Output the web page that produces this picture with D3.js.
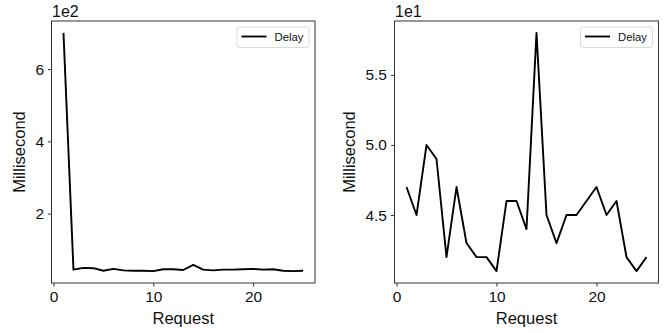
<!DOCTYPE html>
<html>
<head>
<meta charset="utf-8">
<script src="https://cdn.jsdelivr.net/npm/d3@7"></script>
<style>
  html, body { margin: 0; padding: 0; background: #fff; }
  svg { display: block; font-family: "Liberation Sans", Arial, Helvetica, sans-serif; }
</style>
</head>
<body>
<svg id="chart" width="671" height="333"></svg>
<script>
// Request number 1..25
const requests = d3.range(1, 26);

// Delay in milliseconds
const delayAll = [700, 45, 50, 49, 42, 47, 43, 42, 42, 41, 46, 46, 44, 58, 45, 43, 45, 45, 46, 47, 45, 46, 42, 41, 42];
const delayWarm = [47, 45, 50, 49, 42, 47, 43, 42, 42, 41, 46, 46, 44, 58, 45, 43, 45, 45, 46, 47, 45, 46, 42, 41, 42];

const xTicks = [0, 10, 20];
const leftTicks = [200, 400, 600];
const leftTickLabels = ['2', '4', '6'];
const rightTicks = [45, 50, 55];
const rightTickLabels = ['4.5', '5.0', '5.5'];

const svg = d3.select('#chart');

// Matplotlib-like 5% margins around the data range
function padded(ext) {
    const pad = (ext[1] - ext[0]) * 0.05;
    return [ext[0] - pad, ext[1] + pad];
}

function drawPanel(opts) {
    const { left, right, top, bottom, values, yTicks, yLabels, offsetText, labelX } = opts;
    const g = svg.append('g');

    const x = d3.scaleLinear().domain(padded(d3.extent(requests))).range([left, right]);
    const y = d3.scaleLinear().domain(padded(d3.extent(values))).range([bottom, top]);

    // Line
    const line = d3.line().x((d, i) => x(requests[i])).y(d => y(d));
    g.append('path')
        .datum(values)
        .attr('d', line)
        .attr('fill', 'none')
        .attr('stroke', '#000')
        .attr('stroke-width', 1.9)
        .attr('stroke-linejoin', 'round');

    // X axis
    const xAxis = g.append('g')
        .attr('transform', `translate(0,${bottom})`)
        .call(d3.axisBottom(x).tickValues(xTicks).tickSize(3.5).tickPadding(4).tickFormat(d3.format('d')));
    xAxis.selectAll('text').attr('fill', '#111').style('font-size', '15.5px');

    // Y axis
    const yAxis = g.append('g')
        .attr('transform', `translate(${left},0)`)
        .call(d3.axisLeft(y).tickValues(yTicks).tickSize(3.5).tickPadding(4).tickFormat((d, i) => yLabels[i]));
    yAxis.selectAll('text').attr('fill', '#111').style('font-size', '15.5px');

    g.selectAll('.domain').remove();
    g.selectAll('.tick line').attr('stroke', '#333').attr('stroke-width', 1);

    // Frame
    g.append('rect')
        .attr('x', left).attr('y', top)
        .attr('width', right - left).attr('height', bottom - top)
        .attr('fill', 'none').attr('stroke', '#333').attr('stroke-width', 1);

    // Offset text
    g.append('text')
        .attr('x', left + 0.5).attr('y', top - 4)
        .attr('fill', '#111')
        .style('font-size', '16px')
        .text(offsetText);

    // Axis labels
    g.append('text')
        .attr('x', (left + right) / 2).attr('y', bottom + 41)
        .attr('text-anchor', 'middle')
        .attr('fill', '#111')
        .style('font-size', '16.5px')
        .text('Request');

    g.append('text')
        .attr('transform', `translate(${labelX},${(top + bottom) / 2}) rotate(-90)`)
        .attr('text-anchor', 'middle')
        .attr('fill', '#111')
        .style('font-size', '16.5px')
        .text('Millisecond');

    // Legend
    const lg = g.append('g').attr('transform', `translate(${right - 78},${top + 6})`);
    lg.append('rect')
        .attr('width', 72).attr('height', 20.5).attr('rx', 2.5)
        .attr('fill', '#fff').attr('fill-opacity', 0.8)
        .attr('stroke', '#d0d0d0').attr('stroke-width', 0.8);
    lg.append('line')
        .attr('x1', 4.5).attr('x2', 29.5).attr('y1', 9.5).attr('y2', 9.5)
        .attr('stroke', '#000').attr('stroke-width', 1.9);
    lg.append('text')
        .attr('x', 37.5).attr('y', 13.8)
        .attr('fill', '#111')
        .style('font-size', '11.3px')
        .text('Delay');
}

drawPanel({
    left: 51.5, right: 315, top: 21, bottom: 283,
    values: delayAll, yTicks: leftTicks, yLabels: leftTickLabels,
    offsetText: '1e2', labelX: 25
});

drawPanel({
    left: 394.5, right: 658.5, top: 21, bottom: 283,
    values: delayWarm, yTicks: rightTicks, yLabels: rightTickLabels,
    offsetText: '1e1', labelX: 355
});
</script>
</body>
</html>
